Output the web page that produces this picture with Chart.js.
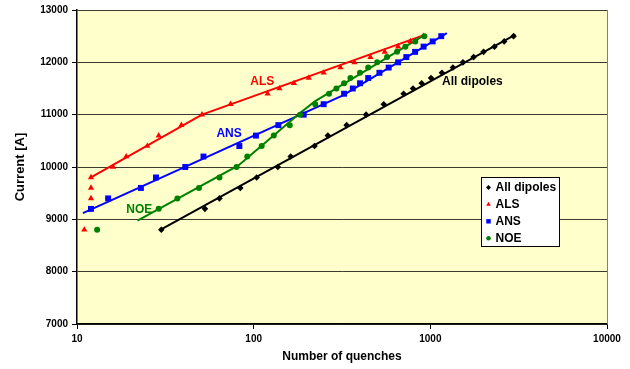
<!DOCTYPE html>
<html>
<head>
<meta charset="utf-8">
<script src="https://cdn.jsdelivr.net/npm/chart.js@4.4.0/dist/chart.umd.min.js"></script>
<style>
  html, body { margin: 0; padding: 0; background: #fff; }
  #wrap { width: 630px; height: 369px; }
</style>
</head>
<body>
<div id="wrap"><canvas id="quench-chart" width="630" height="369"></canvas></div>
<script>
// quench training data (x = number of quenches, y = current [A])
const allX = [30, 53, 64, 84, 104, 137, 162, 221, 263, 336, 433, 545, 706, 798, 893, 1009, 1163, 1342, 1530, 1758, 2001, 2307, 2618, 2958];
const allY = [8800, 9200, 9400, 9600, 9800, 10000, 10200, 10400, 10600, 10800, 11000, 11200, 11400, 11500, 11600, 11700, 11800, 11900, 12000, 12100, 12200, 12300, 12400, 12500];

const alsX = [11, 12, 12, 12, 16, 19, 25, 29, 39, 51, 74, 120, 140, 169, 205, 249, 310, 372, 458, 552, 657, 771, 916];
const alsY = [8800, 9400, 9600, 9800, 10000, 10200, 10400, 10600, 10800, 11000, 11200, 11400, 11500, 11600, 11700, 11800, 11900, 12000, 12100, 12200, 12300, 12400, 12500];

const ansX = [12, 15, 23, 28, 41, 52, 83, 103, 138, 192, 249, 325, 364, 400, 445, 515, 581, 657, 731, 820, 916, 1031, 1153];
const ansY = [9200, 9400, 9600, 9800, 10000, 10200, 10400, 10600, 10800, 11000, 11200, 11400, 11500, 11600, 11700, 11800, 11900, 12000, 12100, 12200, 12300, 12400, 12500];

const noeX = [13, 29, 37, 49, 64, 80, 92, 111, 130, 160, 183, 223, 267, 294, 325, 353, 400, 445, 500, 569, 648, 722, 822, 925];
const noeY = [8800, 9200, 9400, 9600, 9800, 10000, 10200, 10400, 10600, 10800, 11000, 11200, 11400, 11500, 11600, 11700, 11800, 11900, 12000, 12100, 12200, 12300, 12400, 12500];

// hand drawn trend lines
const allFitX = [29.6, 3030];
const allFitY = [8800, 12530];
const alsFitX = [12, 51, 937];
const alsFitY = [9800, 11000, 12530];
const ansFitX = [10.8, 320, 1240];
const ansFitY = [9120, 11370, 12560];
const noeFitX = [22, 82, 183, 222, 265, 925];
const noeFitY = [8975, 10030, 11031, 11253, 11411, 12520];

const xTicks = [10, 100, 1000, 10000];
const seriesNames = ['All dipoles', 'ALS', 'ANS', 'NOE'];

const FONT = "'Liberation Sans', Arial, sans-serif";
const colors = ['#000000', '#ff0000', '#0000ff', '#008000'];
const styles = [
  { pointStyle: 'rectRot', radius: 3.3 },
  { pointStyle: 'triangle', radius: 3.6 },
  { pointStyle: 'rect', radius: 4.2 },
  { pointStyle: 'circle', radius: 3 }
];

const pairs = (xs, ys) => xs.map((x, i) => ({ x: x, y: ys[i] }));

const pointSets = [pairs(allX, allY), pairs(alsX, alsY), pairs(ansX, ansY), pairs(noeX, noeY)];
const fitSets = [pairs(allFitX, allFitY), pairs(alsFitX, alsFitY), pairs(ansFitX, ansFitY), pairs(noeFitX, noeFitY)];

const datasets = [];
fitSets.forEach((d, i) => {
  datasets.push({
    label: seriesNames[i] + ' fit',
    data: d,
    showLine: true,
    pointRadius: 0,
    borderColor: colors[i],
    borderWidth: 2,
    order: 10 - i
  });
});
pointSets.forEach((d, i) => {
  datasets.push({
    label: seriesNames[i],
    data: d,
    showLine: false,
    pointStyle: styles[i].pointStyle,
    pointRadius: styles[i].radius,
    pointBorderWidth: 0,
    backgroundColor: colors[i],
    borderColor: colors[i],
    order: 4 - i
  });
});

// in-plot series labels, in data coordinates
const seriesLabels = [
  { text: 'All dipoles', x: 1730, y: 11633, color: '#000000' },
  { text: 'ALS', x: 112, y: 11633, color: '#ff0000' },
  { text: 'ANS', x: 72.6, y: 10646, color: '#0000ff' },
  { text: 'NOE', x: 22.5, y: 9184, color: '#008000' }
];

const plotBackground = {
  id: 'plotBackground',
  beforeDraw(chart) {
    const { ctx, chartArea: a } = chart;
    ctx.save();
    ctx.fillStyle = '#ffffcc';
    ctx.fillRect(a.left, a.top, a.right - a.left, a.bottom - a.top);
    ctx.restore();
  },
  afterDraw(chart) {
    const { ctx, chartArea: a } = chart;
    ctx.save();
    ctx.strokeStyle = '#808080';
    ctx.lineWidth = 1;
    ctx.beginPath();
    ctx.moveTo(Math.round(a.right) + 0.5, a.top);
    ctx.lineTo(Math.round(a.right) + 0.5, a.bottom);
    ctx.stroke();
    ctx.restore();
  }
};

const labelsPlugin = {
  id: 'seriesLabels',
  afterDatasetsDraw(chart) {
    const { ctx, scales } = chart;
    ctx.save();
    ctx.font = 'bold 12px ' + FONT;
    ctx.textAlign = 'center';
    ctx.textBaseline = 'middle';
    seriesLabels.forEach(l => {
      ctx.fillStyle = l.color;
      ctx.fillText(l.text, scales.x.getPixelForValue(l.x), scales.y.getPixelForValue(l.y));
    });
    ctx.restore();
  }
};

const boxLegend = {
  id: 'boxLegend',
  afterDraw(chart) {
    const { ctx, chartArea: a } = chart;
    const bx = Math.round(a.right - 126) + 0.5;
    const by = Math.round(a.top + 167) + 0.5;
    const bw = 78, bh = 69;
    ctx.save();
    ctx.fillStyle = '#ffffff';
    ctx.fillRect(bx, by, bw, bh);
    ctx.strokeStyle = '#000000';
    ctx.lineWidth = 1;
    ctx.strokeRect(bx, by, bw, bh);
    ctx.font = 'bold 12px ' + FONT;
    ctx.textBaseline = 'middle';
    seriesNames.forEach((name, i) => {
      const ry = by + 10 + i * 16.9;
      ctx.fillStyle = colors[i];
      ctx.strokeStyle = colors[i];
      Chart.helpers.drawPoint(ctx, {
        pointStyle: styles[i].pointStyle,
        radius: styles[i].radius * 0.75,
        rotation: 0,
        borderWidth: 0
      }, bx + 7, ry);
      ctx.fillStyle = '#000000';
      ctx.fillText(name, bx + 14, ry + 0.5);
    });
    ctx.restore();
  }
};

const tickFont = { family: FONT, size: 10, weight: 'bold' };

new Chart(document.getElementById('quench-chart'), {
  type: 'scatter',
  data: { datasets: datasets },
  options: {
    responsive: false,
    animation: false,
    layout: { padding: { left: 0, right: 23, top: 8, bottom: 0 } },
    plugins: {
      legend: { display: false },
      tooltip: { enabled: false }
    },
    scales: {
      x: {
        type: 'logarithmic',
        min: 10,
        max: 10000,
        afterBuildTicks: s => { s.ticks = xTicks.map(v => ({ value: v })); },
        afterFit: s => { s.height = 45; },
        grid: { drawOnChartArea: false, drawTicks: true, tickLength: 5, tickColor: '#000' },
        border: { color: '#000', width: 1.5 },
        ticks: {
          color: '#000',
          font: tickFont,
          padding: 4,
          maxRotation: 0,
          autoSkip: false,
          callback: v => String(v)
        },
        title: {
          display: true,
          text: 'Number of quenches',
          color: '#000',
          font: { family: FONT, size: 12, weight: 'bold' },
          padding: { top: 0, bottom: 5 }
        }
      },
      y: {
        min: 7000,
        max: 13000,
        afterFit: s => { s.width = 77; },
        grid: { color: '#3a3a30', lineWidth: 1, tickLength: 5, tickColor: '#000' },
        border: { color: '#000', width: 1.5 },
        ticks: {
          stepSize: 1000,
          color: '#000',
          font: tickFont,
          padding: 4,
          callback: v => String(v)
        },
        title: {
          display: true,
          text: 'Current [A]',
          color: '#000',
          font: { family: FONT, size: 13, weight: 'bold' },
          padding: { top: 13, bottom: 0 }
        }
      }
    }
  },
  plugins: [plotBackground, labelsPlugin, boxLegend]
});
</script>
</body>
</html>
